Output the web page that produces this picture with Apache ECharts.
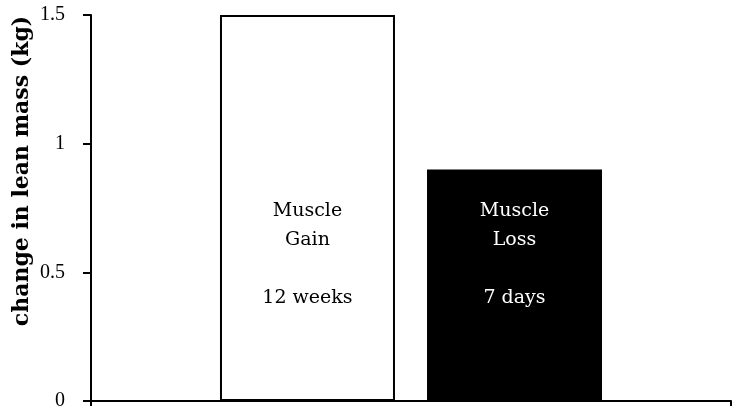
<!DOCTYPE html>
<html>
<head>
<meta charset="utf-8">
<script src="https://cdn.jsdelivr.net/npm/echarts@6/dist/echarts.min.js"></script>
<style>html,body{margin:0;padding:0;background:#fff}#c{width:746px;height:418px}</style>
</head>
<body>
<div id="c"></div>
<script>
const categories = [''];
const seriesNames = ['Muscle Gain', 'Muscle Loss'];
const gainValues = [1.5];
const lossValues = [0.9];
const gainLabel = 'Muscle\nGain\n\n12 weeks';
const lossLabel = 'Muscle\nLoss\n\n7 days';
const yTicks = { min: 0, max: 1.5, interval: 0.5 };
const yTitle = 'change in lean mass (kg)';

const chart = echarts.init(document.getElementById('c'));
const serif = 'DejaVu Serif, Liberation Serif, serif';
const thinSerif = 'Liberation Serif, DejaVu Serif, serif';
const labelBase = {
  show: true, position: 'insideBottom', distance: 88,
  fontFamily: serif, fontSize: 19, lineHeight: 29, align: 'center'
};
chart.setOption({
  animation: false,
  grid: { left: 91, right: 15, top: 15, bottom: 17, containLabel: false },
  xAxis: {
    type: 'category', data: categories,
    axisLine: { lineStyle: { color: '#000', width: 2 } },
    axisTick: { show: true, length: 5, lineStyle: { color: '#000', width: 2 } },
    axisLabel: { show: false }
  },
  yAxis: {
    type: 'value', min: yTicks.min, max: yTicks.max, interval: yTicks.interval,
    splitLine: { show: false },
    axisLine: { show: true, lineStyle: { color: '#000', width: 2 } },
    axisTick: { show: true, length: 8, lineStyle: { color: '#000', width: 2 } },
    axisLabel: { color: '#000', fontFamily: thinSerif, fontSize: 20, margin: 26 }
  },
  graphic: [{
    type: 'text', x: 22, y: 171, rotation: Math.PI / 2,
    style: { text: yTitle, fontFamily: serif, fontWeight: 'bold', fontSize: 22,
      fill: '#000', align: 'center', verticalAlign: 'middle' }
  }],
  series: [
    { name: seriesNames[0], type: 'bar', data: gainValues, barWidth: 175, barGap: '18.3%',
      itemStyle: { color: '#fff', borderColor: '#000', borderWidth: 2 },
      label: Object.assign({}, labelBase, { color: '#000', formatter: gainLabel }) },
    { name: seriesNames[1], type: 'bar', data: lossValues, barWidth: 175,
      itemStyle: { color: '#000', borderColor: '#000', borderWidth: 0 },
      label: Object.assign({}, labelBase, { color: '#fff', formatter: lossLabel }) }
  ]
});
</script>
</body>
</html>
